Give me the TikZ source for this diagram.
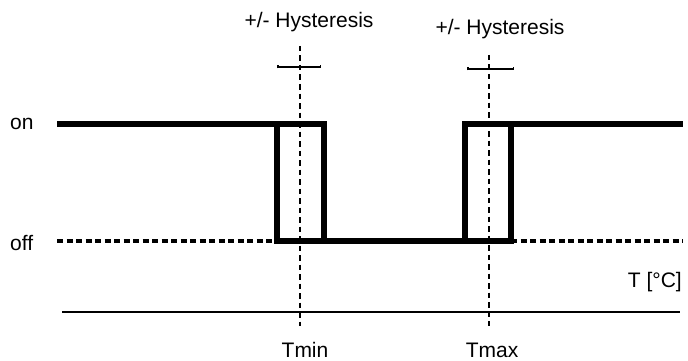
\documentclass[tikz,border=0pt]{standalone}
\usepackage{fontspec}
\newfontfamily\labelfont{Liberation Sans}
\usetikzlibrary{arrows.meta}
\begin{document}
\begin{tikzpicture}[x=1pt,y=-1pt,
    lbl/.style={font=\labelfont\fontsize{21}{24}\selectfont, inner sep=0pt},
    state/.style={line width=5.5pt, line join=miter},
    offline/.style={line width=3.5pt, dash pattern=on 6pt off 3.5pt},
    limit/.style={line width=2.5pt, dash pattern=on 5.5pt off 4pt},
    band/.style={line width=1.5pt, {Bar[width=3pt]}-{Bar[width=3pt]}},
    axis/.style={line width=1.4pt}]
  \useasboundingbox (0,0) rectangle (688,361);
  \coordinate (on0) at (57,124);
  \coordinate (on1) at (683,124);
  \coordinate (off0) at (57,241);
  \coordinate (off1) at (683,241);
  \coordinate (minL) at (277,124);
  \coordinate (minR) at (324,124);
  \coordinate (maxL) at (465,124);
  \coordinate (maxR) at (511,124);
  \coordinate (minTop) at (300,46);
  \coordinate (minBot) at (300,326);
  \coordinate (maxTop) at (489,55);
  \coordinate (maxBot) at (489,326);
  \coordinate (ax0) at (62,312);
  \coordinate (ax1) at (680,312);
  \draw
    (10,129) node[lbl, anchor=base west] (on) {on}
    (10,250) node[lbl, anchor=base west] (off) {off}
    (309,28) node[lbl, anchor=base] (hyst1) {+/- Hysteresis}
    (500,35) node[lbl, anchor=base] (hyst2) {+/- Hysteresis}
    (682,287) node[lbl, anchor=base east] (unit) {T [\textdegree C]}
    (305,357) node[lbl, anchor=base] (tmin) {Tmin}
    (492,357) node[lbl, anchor=base] (tmax) {Tmax};
  \begin{scope}[-]
    \draw[offline] (off0) -- (minL |- off0);
    \draw[offline] (maxR |- off1) -- (off1);
    \draw[state] (on0) -- (minR) -- (minR |- off0);
    \draw[state] (minL) -- (minL |- off0) -- (maxR |- off0) -- (maxR);
    \draw[state] (maxL |- off0) -- (maxL) -- (on1);
    \draw[limit] (minTop) -- (minBot);
    \draw[limit] (maxTop) -- (maxBot);
    \draw[band] (277,67) -- (321,67);
    \draw[band] (467,69) -- (514,69);
    \draw[axis] (ax0) -- (ax1);
  \end{scope}
\end{tikzpicture}
\end{document}
